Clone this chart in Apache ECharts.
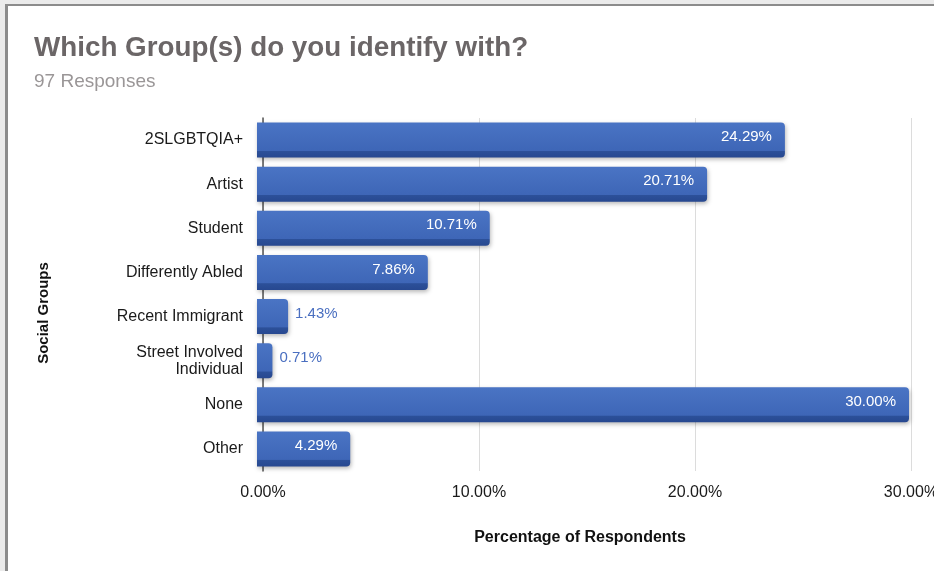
<!DOCTYPE html>
<html>
<head>
<meta charset="utf-8">
<script src="https://cdn.jsdelivr.net/npm/echarts@6/dist/echarts.min.js"></script>
<style>
  html, body { margin: 0; padding: 0; background: #ebebeb; }
  #frame { position: absolute; left: 5px; top: 4px; right: 0; bottom: 0;
           background: #ffffff; border-left: 3px solid #8c8c8c; border-top: 2px solid #8c8c8c; }
  #chart { position: absolute; left: 0; top: 0; width: 934px; height: 571px; }
</style>
</head>
<body>
<div id="frame"></div>
<div id="chart"></div>
<script>
// Survey answers: share of respondents per social group
const categories = [
  '2SLGBTQIA+',
  'Artist',
  'Student',
  'Differently Abled',
  'Recent Immigrant',
  'Street Involved\nIndividual',
  'None',
  'Other'
];
const percentages = [24.29, 20.71, 10.71, 7.86, 1.43, 0.71, 30.00, 4.29];
const xTicks = [0, 10, 20, 30];

const FONT = '"Liberation Sans", Arial, Helvetica, sans-serif';
const pct = v => v.toFixed(2) + '%';
const barFill = new echarts.graphic.LinearGradient(0, 0, 0, 1, [
  { offset: 0, color: '#4a74c4' },
  { offset: 0.8, color: '#3e66b7' },
  { offset: 0.82, color: '#2c5099' },
  { offset: 1, color: '#274890' }
]);

const xMin = xTicks[0], xMax = xTicks[xTicks.length - 1];

const chart = echarts.init(document.getElementById('chart'), null, { renderer: 'canvas' });
chart.setOption({
  backgroundColor: 'transparent',
  animation: false,
  title: [
    {
      text: 'Which Group(s) do you identify with?',
      left: 29, top: 29,
      textStyle: { fontFamily: FONT, fontSize: 27.8, fontWeight: 'bold', color: '#6b6667' }
    },
    {
      text: '97 Responses',
      left: 29, top: 67,
      textStyle: { fontFamily: FONT, fontSize: 19, fontWeight: 'normal', color: '#9a9697' }
    }
  ],
  // grid 0: the back wall (gridlines, ticks, category axis); grid 1: the bars in front of it
  grid: [
    { left: 263, right: 23, top: 118, bottom: 100, outerBoundsMode: 'none' },
    { left: 257, right: 25, top: 118, bottom: 100, outerBoundsMode: 'none' }
  ],
  xAxis: [
    {
      gridIndex: 0, type: 'value', min: xMin, max: xMax, interval: 10,
      name: 'Percentage of Respondents',
      nameLocation: 'middle', nameGap: 59,
      nameTextStyle: { fontFamily: FONT, fontSize: 16, fontWeight: 'bold', color: '#111', padding: [0, 14, 0, 0] },
      axisLine: { show: false },
      axisTick: { show: false },
      axisLabel: { fontFamily: FONT, fontSize: 16, color: '#1a1a1a', margin: 14, formatter: pct },
      splitLine: { show: true, lineStyle: { color: '#dcdcdc', width: 1 } }
    },
    {
      gridIndex: 1, type: 'value', min: xMin, max: xMax, interval: 10, show: false
    }
  ],
  yAxis: [
    {
      gridIndex: 0, type: 'category', inverse: true, data: categories,
      axisLine: { show: true, lineStyle: { color: '#555', width: 1.5 } },
      axisTick: { show: false },
      axisLabel: { fontFamily: FONT, fontSize: 16, color: '#1a1a1a', margin: 20, lineHeight: 17 }
    },
    {
      gridIndex: 1, type: 'category', inverse: true, data: categories, show: false
    }
  ],
  graphic: [{
    type: 'text',
    x: 44, y: 313, rotation: Math.PI / 2,
    style: {
      text: 'Social Groups',
      font: 'bold 15px ' + FONT,
      fill: '#111',
      align: 'center', verticalAlign: 'middle'
    }
  }],
  series: [{
    type: 'bar',
    xAxisIndex: 1, yAxisIndex: 1,
    data: percentages.map(v => ({
      value: v,
      label: v < 2
        ? { position: 'right', color: '#4a6fc0', distance: 7 }
        : { position: 'insideRight', color: '#ffffff', distance: 13 }
    })),
    barWidth: 35,
    itemStyle: {
      color: barFill,
      borderRadius: [0, 4, 4, 0],
      shadowColor: 'rgba(0,0,0,0.28)',
      shadowBlur: 4,
      shadowOffsetX: 1,
      shadowOffsetY: 2
    },
    label: {
      show: true,
      fontFamily: FONT, fontSize: 15,
      offset: [0, -3],
      formatter: p => pct(p.value)
    }
  }]
});
</script>
</body>
</html>
